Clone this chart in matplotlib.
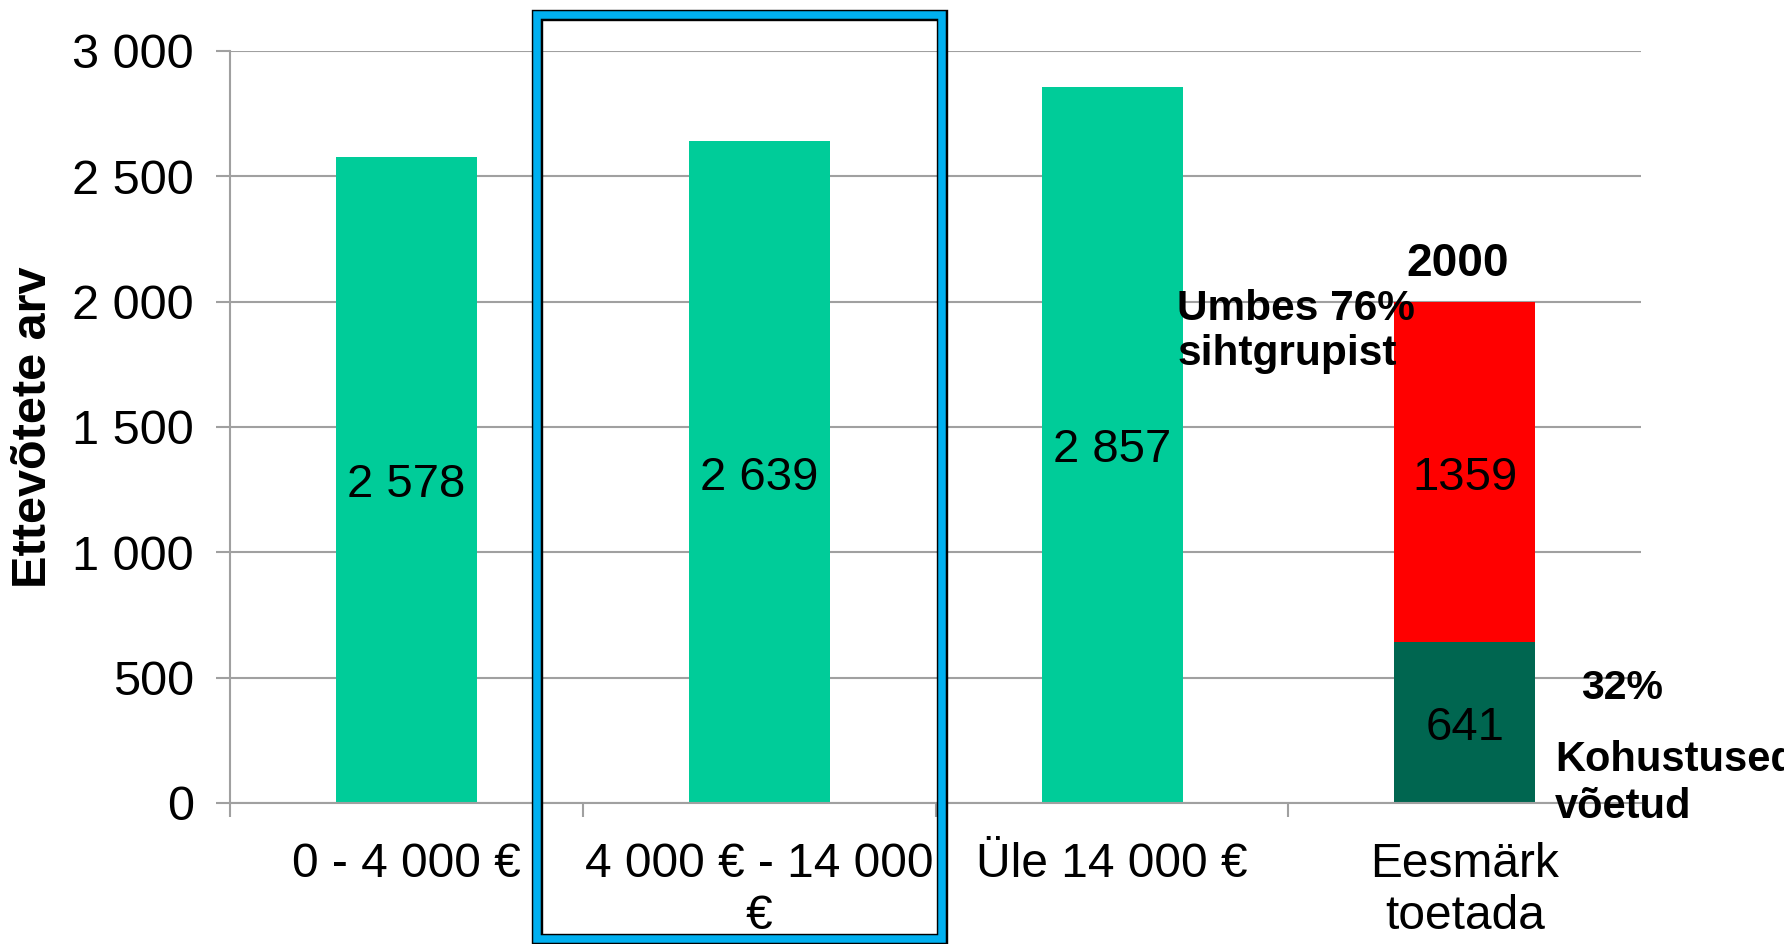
import matplotlib
matplotlib.use("Agg")
import matplotlib.pyplot as plt
from matplotlib import font_manager
from matplotlib.patches import Rectangle

# data
categories = ["0 - 4 000 €", "4 000 € - 14 000\n€", "Üle 14 000 €", "Eesmärk\ntoetada"]
firms = [2578, 2639, 2857]
goal_done = [641]
goal_left = [1359]
goal_total = 2000
yticks = [0, 500, 1000, 1500, 2000, 2500, 3000]

green = "#00CC99"
dark = "#006650"
red = "#FF0000"
grid_c = "#A0A0A0"

plt.rcParams["font.family"] = ["Liberation Sans", "DejaVu Sans"]

# narrow face for x labels if present
try:
    font_manager.findfont("Liberation Sans Narrow", fallback_to_default=False)
    xfam, xsize = ["Liberation Sans Narrow", "Liberation Sans"], 37
except ValueError:
    xfam, xsize = ["Liberation Sans", "DejaVu Sans"], 34.5

def fmt(v):
    return f"{v:,}".replace(",", " ")

fig = plt.figure(figsize=(17.84, 9.44), dpi=100)
ax = fig.add_axes([0.129, 0.1494, 0.791, 0.7966])

b1 = ax.bar(range(len(firms)), firms, width=0.4, color=green, zorder=2)
b2 = ax.bar([3], goal_done, width=0.4, color=dark, zorder=2)
b3 = ax.bar([3], goal_left, bottom=goal_done, width=0.4, color=red, zorder=2)
for bars, labs in [(b1, [fmt(v) for v in firms]),
                   (b2, [str(v) for v in goal_done]),
                   (b3, [str(v) for v in goal_left])]:
    for t in ax.bar_label(bars, labels=labs, label_type="center", fontsize=34):
        t.set_y(-4)

ax.set_xlim(-0.5, 3.5)
ax.set_ylim(0, 3000)
ax.set_yticks(yticks)
ax.set_yticklabels([fmt(v) for v in yticks], fontsize=35)
ax.set_xticks(range(4))
ax.set_xticklabels(categories, fontsize=xsize, family=xfam, linespacing=1.2)
ax.set_xticks([-0.5, 0.5, 1.5, 2.5], minor=True)
ax.tick_params(axis="x", which="major", length=0, pad=28)
ax.tick_params(axis="x", which="minor", length=10, width=1.5, color=grid_c)
ax.tick_params(axis="y", length=10, width=1.5, color=grid_c, pad=16)
ax.yaxis.grid(True, color=grid_c, lw=1.5, zorder=0)
ax.set_axisbelow(True)
for s in ["top", "right"]:
    ax.spines[s].set_visible(False)
for s in ["left", "bottom"]:
    ax.spines[s].set_color(grid_c)
    ax.spines[s].set_linewidth(1.5)
ax.set_ylabel("Ettevõtete arv", fontsize=35, fontweight="bold", labelpad=12)

# annotations
ax.annotate(str(goal_total), (3, goal_total), xytext=(-5, 27), textcoords="offset points",
            ha="center", va="center", fontsize=33, fontweight="bold", annotation_clip=False)
ax.text(2.185, 1880, "Umbes 76%\nsihtgrupist", ha="left", va="center", fontsize=30.5,
        fontweight="bold", linespacing=1.15, clip_on=False)
ax.text(3.33, 458, "32%", ha="left", va="center", fontsize=29.5, fontweight="bold", clip_on=False)
ax.text(3.255, 78, "Kohustused\nvõetud", ha="left", va="center", fontsize=30,
        fontweight="bold", linespacing=1.2, clip_on=False)

# highlight frame round the second category
W, H = 1784, 944
x0, x1, y0, y1 = 536.5, 941.5, 14.5, 938.5
for c, lw in [("black", 8.2), ("#00B0F0", 5.4)]:
    fig.add_artist(Rectangle((x0 / W, 1 - y1 / H), (x1 - x0) / W, (y1 - y0) / H,
                             transform=fig.transFigure, fill=False, ec=c, lw=lw, zorder=5))

fig.savefig("out.png", dpi=100)
